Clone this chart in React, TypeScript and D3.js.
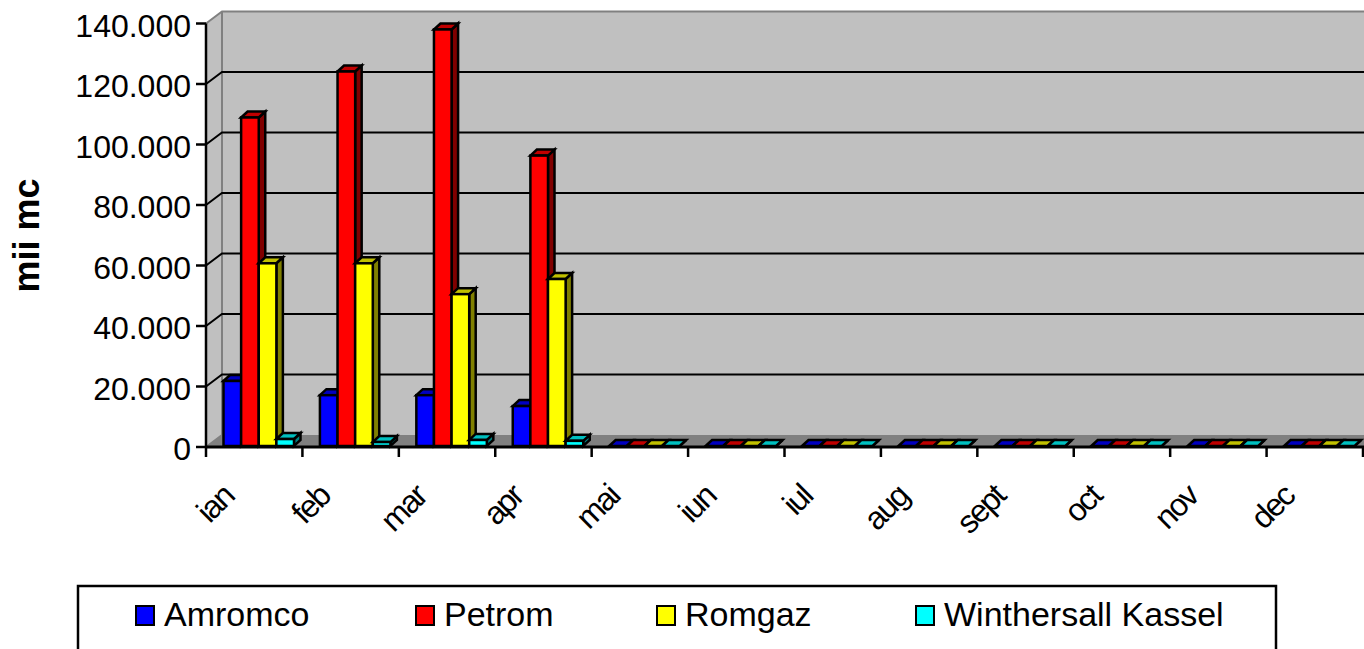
import React from "react";
import * as d3 from "d3";

const months = ["ian","feb","mar","apr","mai","iun","iul","aug","sept","oct","nov","dec"];
const seriesNames = ["Amromco","Petrom","Romgaz","Winthersall Kassel"];
const amromco = [21500,16800,16800,13200,0,0,0,0,0,0,0,0];
const petrom = [108600,123800,137700,96000,0,0,0,0,0,0,0,0];
const romgaz = [60400,60400,50200,55200,0,0,0,0,0,0,0,0];
const winthersall = [2300,1300,2000,1700,0,0,0,0,0,0,0,0];
const seriesValues = [amromco,petrom,romgaz,winthersall];
const yTicks = [0,20000,40000,60000,80000,100000,120000,140000];
const yLabels = ["0","20.000","40.000","60.000","80.000","100.000","120.000","140.000"];
const frontColors = ["#0000ff","#ff0000","#ffff00","#00ffff"];
const topColors = ["#0000c0","#c00000","#c0c000","#00c0c0"];
const sideColors = ["#000080","#800000","#808000","#008080"];
const legendX = [136,416,657,916];

const W = 1364, H = 649;
const DX = 16, DY = 12;       // depth of the chart box
const BX = 6.5, BY = 6;       // depth of a bar
const y = d3.scaleLinear().domain([0,140000]).range([447,23.5]);
const x = d3.scaleBand<string>().domain(months).range([206,1363]);
const inner = d3.scaleBand<string>().domain(seriesNames).range([17.5,88]);
const font = "'Liberation Sans', Arial, sans-serif";

export default function App() {
  const x0 = 206, x1 = 1364;
  const yTop = y(140000), yBot = y(0);
  return (
    <svg width={W} height={H} viewBox={`0 0 ${W} ${H}`}
      style={{position:"absolute",left:0,top:0,display:"block",background:"#fff"}}>
      {/* back wall */}
      <rect x={x0+DX} y={yTop-DY} width={x1-x0-DX} height={yBot-yTop} fill="#c0c0c0"/>
      {/* left wall */}
      <polygon points={`${x0},${yTop} ${x0+DX},${yTop-DY} ${x0+DX},${yBot-DY} ${x0},${yBot}`} fill="#c0c0c0"/>
      {/* floor */}
      <polygon points={`${x0},${yBot} ${x0+DX},${yBot-DY} ${x1},${yBot-DY} ${x1},${yBot}`} fill="#808080"/>
      <path d={`M${x0},${yTop}L${x0+DX},${yTop-DY}H${x1}M${x0+DX},${yTop-DY}V${yBot-DY}L${x0},${yBot}`}
        fill="none" stroke="#808080" strokeWidth={2}/>
      {/* gridlines */}
      {yTicks.slice(1,-1).map(t => (
        <path key={t} d={`M${x0},${y(t)}L${x0+DX},${y(t)-DY}H${x1}`} fill="none" stroke="#000" strokeWidth={2}/>
      ))}
      {/* bars */}
      {months.map((m,i) => seriesNames.map((s,k) => {
        const v = seriesValues[k][i];
        const bx = x(m)! + inner(s)!;
        const w = inner.bandwidth();
        const top = y(v) - 1, bot = yBot - 1;
        return (
          <g key={m+s} stroke="#000" strokeWidth={2.5} strokeLinejoin="miter">
            <polygon points={`${bx+w},${top} ${bx+w+BX},${top-BY} ${bx+w+BX},${bot-BY} ${bx+w},${bot}`} fill={sideColors[k]}/>
            <polygon points={`${bx},${top} ${bx+BX},${top-BY} ${bx+w+BX},${top-BY} ${bx+w},${top}`} fill={topColors[k]}/>
            {v > 0 && <rect x={bx} y={top} width={w} height={bot-top} fill={frontColors[k]}/>}
          </g>
        );
      }))}
      {/* axes */}
      <path d={`M${x0},${yTop}V${yBot}`} fill="none" stroke="#000" strokeWidth={2.5}/>
      <path d={`M${x0},${yBot}H${x1}`} fill="none" stroke="#000" strokeWidth={3}/>
      {yTicks.map(t => <line key={t} x1={x0-10} x2={x0} y1={y(t)} y2={y(t)} stroke="#000" strokeWidth={2.5}/>)}
      {[...months.map(m => x(m)!), 1363].map((p,i) => (
        <line key={i} x1={p} x2={p} y1={yBot} y2={yBot+10} stroke="#000" strokeWidth={2.5}/>
      ))}
      {yTicks.map((t,i) => (
        <text key={t} x={191} y={y(t)+13} textAnchor="end" fontFamily={font} fontSize={32} fill="#000">{yLabels[i]}</text>
      ))}
      {months.map(m => {
        const cx = x(m)! + x.bandwidth()/2 - 35, cy = 482;
        return <text key={m} transform={`translate(${cx},${cy}) rotate(-45)`} textAnchor="end" dominantBaseline="hanging"
          fontFamily={font} fontSize={32} fill="#000" letterSpacing={-2}>{m}</text>;
      })}
      <text transform="translate(39,235.5) rotate(-90)" textAnchor="middle" fontFamily={font} fontSize={36} fontWeight="bold" fill="#000">mii mc</text>
      {/* legend */}
      <rect x={78} y={586} width={1198} height={80} fill="#fff" stroke="#000" strokeWidth={2.5}/>
      {seriesNames.map((s,k) => (
        <g key={s}>
          <rect x={legendX[k]} y={606} width={18} height={19} fill={frontColors[k]} stroke="#000" strokeWidth={2}/>
          <text x={legendX[k]+28} y={626} fontFamily={font} fontSize={34} fill="#000">{s}</text>
        </g>
      ))}
    </svg>
  );
}
